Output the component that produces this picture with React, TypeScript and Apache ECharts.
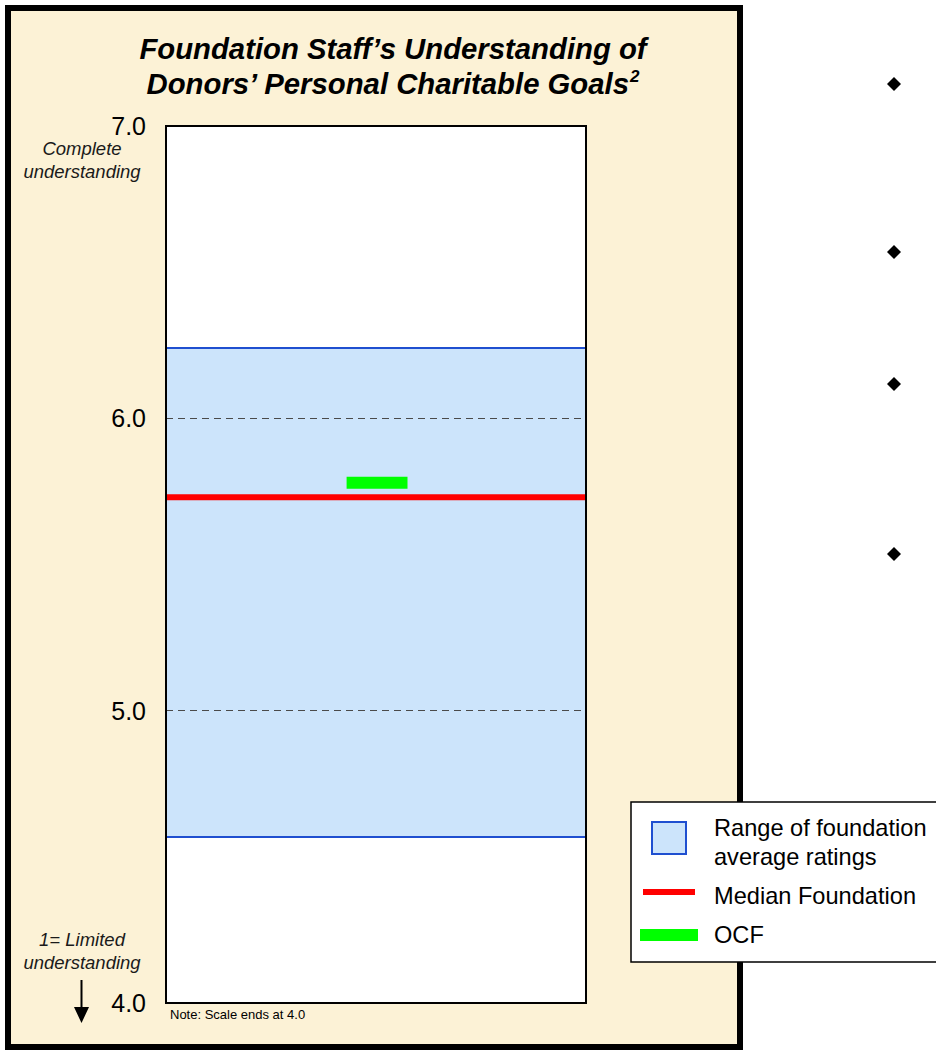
import React, { useEffect, useRef } from "react";
import * as echarts from "echarts";

// ---- data ----
const yTicks = [4, 5, 6, 7];
const dashedGridValues = [5, 6];
const rangeLow = 4.57;
const rangeHigh = 6.24;
const medianValue = 5.73;
const ocfValue = 5.78;
const ocfExtent = [0.43, 0.575];
const seriesNames = ["Range of foundation average ratings", "Median Foundation", "OCF"];
const legendLabels = ["Range of foundation\naverage ratings", "Median Foundation", "OCF"];
const titleLines = ["Foundation Staff\u2019s Understanding of", "Donors\u2019 Personal Charitable Goals"];
const titleSup = "2";
const topAxisNote = ["Complete", "understanding"];
const bottomAxisNote = ["1= Limited", "understanding"];
const scaleNote = "Note: Scale ends at 4.0";

const FONT = "'Liberation Sans', Arial, Helvetica, sans-serif";
const RED = "#FF0000";
const GREEN = "#00FF00";
const BAND = "#CCE4FB";
const BAND_EDGE = "#1F4FD0";

export default function App() {
  const ref = useRef<HTMLDivElement>(null);

  useEffect(() => {
    if (!ref.current) return;
    const chart = echarts.init(ref.current, undefined, { renderer: "svg" });

    const diamond = (cx: number, cy: number, r: number) => ({
      type: "polygon",
      z: 50,
      shape: { points: [[cx, cy - r], [cx + r, cy], [cx, cy + r], [cx - r, cy]] },
      style: { fill: "#000" },
    });

    const option: any = {
      animation: false,
      backgroundColor: "#ffffff",
      grid: {
        left: 166,
        top: 126,
        width: 420,
        height: 877,
        show: true,
        backgroundColor: "#ffffff",
        borderWidth: 0,
        z: 1,
      },
      xAxis: { type: "value", min: 0, max: 1, show: false },
      yAxis: {
        type: "value",
        min: yTicks[0],
        max: yTicks[yTicks.length - 1],
        interval: 1,
        axisLine: { show: false },
        axisTick: { show: false },
        splitLine: { show: false },
        axisLabel: {
          show: true,
          margin: 20,
          fontSize: 25,
          color: "#000",
          fontFamily: FONT,
          formatter: (v: number) => v.toFixed(1),
        },
      },
      series: [
        {
          name: seriesNames[0],
          type: "line",
          data: [],
          z: 2,
          silent: true,
          markArea: {
            silent: true,
            itemStyle: { color: BAND },
            data: [[{ yAxis: rangeLow }, { yAxis: rangeHigh }]],
          },
          markLine: {
            silent: true,
            symbol: "none",
            label: { show: false },
            data: [
              { yAxis: rangeLow, lineStyle: { color: BAND_EDGE, width: 2, type: "solid" } },
              { yAxis: rangeHigh, lineStyle: { color: BAND_EDGE, width: 2, type: "solid" } },
              ...dashedGridValues.map((v) => ({
                yAxis: v,
                lineStyle: { color: "#4a4a4a", width: 1, type: [7, 5] },
              })),
            ],
          },
        },
        {
          name: seriesNames[1],
          type: "line",
          z: 4,
          silent: true,
          symbol: "none",
          lineStyle: { color: RED, width: 6 },
          data: [
            [0, medianValue],
            [1, medianValue],
          ],
        },
        {
          name: seriesNames[2],
          type: "line",
          z: 5,
          silent: true,
          symbol: "none",
          lineStyle: { color: GREEN, width: 12, cap: "butt" },
          data: [
            [ocfExtent[0], ocfValue],
            [ocfExtent[1], ocfValue],
          ],
        },
      ],
      graphic: [
        // beige panel
        {
          type: "rect",
          z: -5,
          shape: { x: 8, y: 8, width: 732, height: 1039 },
          style: { fill: "#FCF2D6", stroke: "#000", lineWidth: 6 },
        },
        // plot border
        {
          type: "rect",
          z: 60,
          shape: { x: 166, y: 126, width: 420, height: 877 },
          style: { fill: "none", stroke: "#000", lineWidth: 2 },
        },
        // title
        {
          type: "text",
          z: 60,
          x: 393,
          y: 48,
          style: {
            text: titleLines[0],
            font: `italic bold 29.3px ${FONT}`,
            fill: "#000",
            textAlign: "center",
            textVerticalAlign: "middle",
          },
        },
        {
          type: "text",
          z: 60,
          x: 629,
          y: 83,
          style: {
            text: titleLines[1],
            font: `italic bold 29.3px ${FONT}`,
            fill: "#000",
            textAlign: "right",
            textVerticalAlign: "middle",
          },
        },
        {
          type: "text",
          z: 60,
          x: 630,
          y: 76,
          style: {
            text: titleSup,
            font: `italic bold 17px ${FONT}`,
            fill: "#000",
            textAlign: "left",
            textVerticalAlign: "middle",
          },
        },
        // axis notes
        {
          type: "text",
          z: 60,
          x: 82,
          y: 160,
          style: {
            text: topAxisNote.join("\n"),
            font: `italic 18.5px ${FONT}`,
            lineHeight: 23,
            fill: "#1a1a1a",
            textAlign: "center",
            textVerticalAlign: "middle",
          },
        },
        {
          type: "text",
          z: 60,
          x: 82,
          y: 951,
          style: {
            text: bottomAxisNote.join("\n"),
            font: `italic 18.5px ${FONT}`,
            lineHeight: 23,
            fill: "#1a1a1a",
            textAlign: "center",
            textVerticalAlign: "middle",
          },
        },
        // down arrow
        {
          type: "line",
          z: 60,
          shape: { x1: 81.5, y1: 980, x2: 81.5, y2: 1010 },
          style: { stroke: "#000", lineWidth: 2 },
        },
        {
          type: "polygon",
          z: 60,
          shape: { points: [[74, 1007], [89, 1007], [81.5, 1023]] },
          style: { fill: "#000" },
        },
        // scale note
        {
          type: "text",
          z: 60,
          x: 170,
          y: 1014,
          style: {
            text: scaleNote,
            font: `13px ${FONT}`,
            fill: "#000",
            textAlign: "left",
            textVerticalAlign: "middle",
          },
        },
        // legend box
        {
          type: "rect",
          z: 200,
          shape: { x: 631, y: 802, width: 320, height: 160 },
          style: { fill: "#fff", stroke: "#000", lineWidth: 1.5 },
        },
        {
          type: "rect",
          z: 201,
          shape: { x: 652, y: 822, width: 34, height: 32 },
          style: { fill: BAND, stroke: BAND_EDGE, lineWidth: 2 },
        },
        {
          type: "line",
          z: 201,
          shape: { x1: 643, y1: 892, x2: 695, y2: 892 },
          style: { stroke: RED, lineWidth: 6 },
        },
        {
          type: "line",
          z: 201,
          shape: { x1: 640, y1: 935, x2: 698, y2: 935 },
          style: { stroke: GREEN, lineWidth: 12 },
        },
        {
          type: "text",
          z: 201,
          x: 714,
          y: 842.5,
          style: {
            text: legendLabels[0],
            font: `23.6px ${FONT}`,
            lineHeight: 29,
            fill: "#000",
            textAlign: "left",
            textVerticalAlign: "middle",
          },
        },
        {
          type: "text",
          z: 201,
          x: 714,
          y: 896,
          style: {
            text: legendLabels[1],
            font: `23.6px ${FONT}`,
            fill: "#000",
            textAlign: "left",
            textVerticalAlign: "middle",
          },
        },
        {
          type: "text",
          z: 201,
          x: 714,
          y: 935,
          style: {
            text: legendLabels[2],
            font: `23.6px ${FONT}`,
            fill: "#000",
            textAlign: "left",
            textVerticalAlign: "middle",
          },
        },
        // bullets on the right
        diamond(894, 84, 7),
        diamond(894, 252, 7),
        diamond(894, 384, 7),
        diamond(894, 554, 7),
      ],
    };

    chart.setOption(option);
    return () => chart.dispose();
  }, []);

  return (
    <div
      ref={ref}
      style={{ position: "absolute", left: 0, top: 0, width: 936, height: 1053, background: "#fff" }}
    />
  );
}
